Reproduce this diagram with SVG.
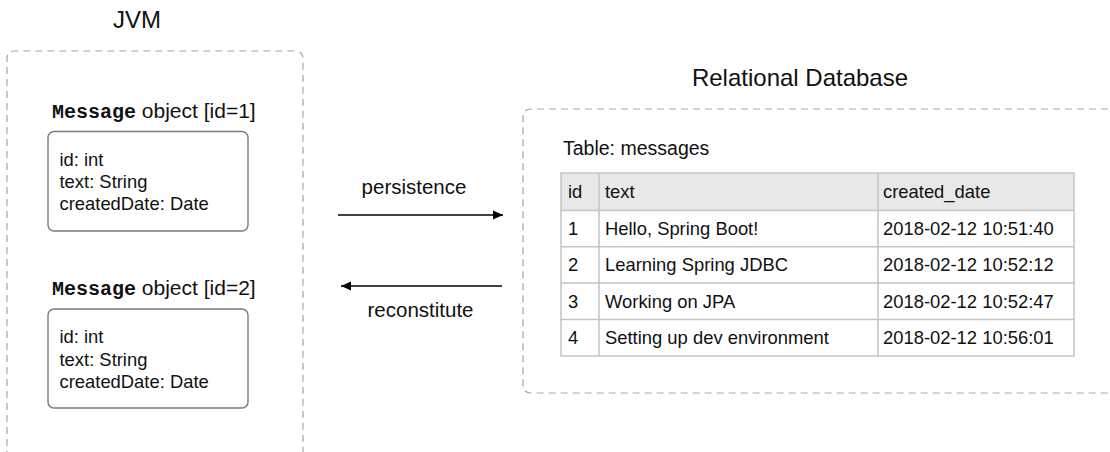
<svg xmlns="http://www.w3.org/2000/svg" width="1110" height="452" viewBox="0 0 1110 452">
<style>
.t{font-family:"Liberation Sans",Arial,sans-serif;fill:#111}
.title{font-size:24px}
.lbl{font-size:20.5px}
.olbl{font-size:21px}
.body{font-size:18.4px}
.mono{font-family:"Liberation Mono","Courier New",monospace;font-weight:bold;font-size:20px}
.cont{fill:none;stroke:#a6a6a6;stroke-width:1.2;stroke-dasharray:7 5}
.obj{fill:#fff;stroke:#7a7a7a;stroke-width:1.4}
.grid{stroke:#c4c4c4;stroke-width:1.5;fill:none}
.arr{stroke:#000;stroke-width:1.6;fill:none}
</style>
<defs>
<marker id="ah" viewBox="0 0 10 10" refX="10" refY="5" markerWidth="10" markerHeight="10" markerUnits="userSpaceOnUse" orient="auto">
<path d="M0,0.5 L10,5 L0,9.5 Z" fill="#000"/>
</marker>
</defs>

<g id="jvm">
<text class="t title" x="137" y="28" text-anchor="middle">JVM</text>
<path class="cont" d="M7,470 L7,59 Q7,51 15,51 L295,51 Q303,51 303,59 L303,470"/>
</g>

<g id="message1">
<text x="52" y="118" class="t olbl"><tspan class="mono">Message</tspan> object [id=1]</text>
<rect class="obj" x="48" y="131.5" width="200" height="99.5" rx="6"/>
<text class="t body" x="59.5" y="165.7">id: int</text>
<text class="t body" x="59.5" y="187.8">text: String</text>
<text class="t body" x="59.5" y="209.8">createdDate: Date</text>
</g>

<g id="message2">
<text x="52" y="295" class="t olbl"><tspan class="mono">Message</tspan> object [id=2]</text>
<rect class="obj" x="48" y="309" width="200" height="99" rx="6"/>
<text class="t body" x="59.5" y="343.3">id: int</text>
<text class="t body" x="59.5" y="365.5">text: String</text>
<text class="t body" x="59.5" y="387.6">createdDate: Date</text>
</g>

<g id="database">
<text class="t title" x="800" y="86" text-anchor="middle">Relational Database</text>
<path class="cont" d="M1120,109 L531,109 Q523,109 523,117 L523,385 Q523,393 531,393 L1120,393"/>
<text class="t" style="font-size:19.5px" x="563" y="154.8">Table: messages</text>
<g id="table">
<rect x="561" y="173" width="513" height="37.5" fill="#e8e8e8"/>
<rect class="grid" x="561" y="173" width="513" height="183"/>
<path class="grid" d="M561,210.5 H1074 M561,246.8 H1074 M561,283 H1074 M561,319.5 H1074 M599,173 V356 M878,173 V356"/>
<g class="t body">
<text x="568" y="198.3">id</text><text x="605" y="198.3">text</text><text x="883" y="198.3">created_date</text>
<text x="568" y="234.6">1</text><text x="605" y="234.6">Hello, Spring Boot!</text><text x="883" y="234.6">2018-02-12 10:51:40</text>
<text x="568" y="271.3">2</text><text x="605" y="271.3">Learning Spring JDBC</text><text x="883" y="271.3">2018-02-12 10:52:12</text>
<text x="568" y="307.8">3</text><text x="605" y="307.8">Working on JPA</text><text x="883" y="307.8">2018-02-12 10:52:47</text>
<text x="568" y="344.3">4</text><text x="605" y="344.3">Setting up dev environment</text><text x="883" y="344.3">2018-02-12 10:56:01</text>
</g>
</g>
</g>

<g id="connectors">
<line class="arr" x1="338" y1="215" x2="503" y2="215" marker-end="url(#ah)"/>
<text class="t lbl" x="414" y="194" text-anchor="middle">persistence</text>
<line class="arr" x1="502" y1="286" x2="341" y2="286" marker-end="url(#ah)"/>
<text class="t lbl" x="420.5" y="317" text-anchor="middle">reconstitute</text>
</g>
</svg>
